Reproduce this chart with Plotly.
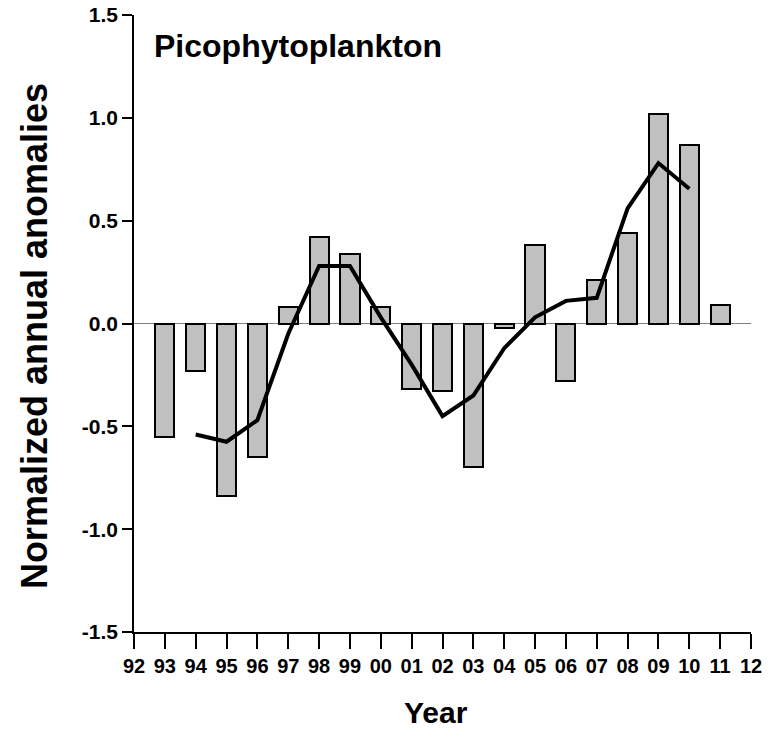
import plotly.graph_objects as go

# ---- data ----
bar_years = list(range(1993, 2012))
bar_values = [-0.55, -0.23, -0.84, -0.65, 0.08, 0.42, 0.34, 0.08, -0.32, -0.33,
              -0.70, -0.02, 0.38, -0.28, 0.21, 0.44, 1.02, 0.87, 0.09]

line_years = list(range(1994, 2011))
line_values = [-0.54, -0.575, -0.47, -0.05, 0.28, 0.28, 0.03, -0.20, -0.45, -0.35,
               -0.12, 0.03, 0.11, 0.125, 0.56, 0.78, 0.655]

x_tick_vals = list(range(1992, 2013))
x_tick_text = ["92", "93", "94", "95", "96", "97", "98", "99", "00", "01", "02",
               "03", "04", "05", "06", "07", "08", "09", "10", "11", "12"]
y_tick_vals = [-1.5, -1.0, -0.5, 0.0, 0.5, 1.0, 1.5]
y_tick_text = ["-1.5", "-1.0", "-0.5", "0.0", "0.5", "1.0", "1.5"]

title_text = "Picophytoplankton"
x_title = "Year"
y_title = "Normalized annual anomalies"

FONT = "Liberation Sans, Arial, sans-serif"

fig = go.Figure()
fig.add_trace(go.Bar(
    x=bar_years, y=bar_values, width=0.62,
    marker=dict(color="#c0c0c0", line=dict(color="black", width=2)),
    showlegend=False,
))
fig.add_trace(go.Scatter(
    x=line_years, y=line_values, mode="lines",
    line=dict(color="black", width=4),
    showlegend=False,
))

fig.update_layout(
    width=779, height=735,
    margin=dict(l=134, r=28, t=15, b=103),
    plot_bgcolor="white", paper_bgcolor="white",
    font=dict(family=FONT, color="black"),
    bargap=0,
)
fig.update_xaxes(
    range=[1992, 2012], showgrid=False, zeroline=False, automargin=False,
    showline=True, linecolor="black", linewidth=1.5,
    ticks="outside", ticklen=15, tickwidth=1.5, tickcolor="black",
    tickvals=x_tick_vals, ticktext=x_tick_text,
    tickfont=dict(family=FONT, size=20, weight="bold", color="black"),
)
fig.update_yaxes(
    range=[-1.5, 1.5], showgrid=False, automargin=False,
    ticklabeloverflow="allow",
    zeroline=True, zerolinecolor="#808080", zerolinewidth=1,
    showline=True, linecolor="black", linewidth=1.5,
    ticks="outside", ticklen=10, tickwidth=1.5, tickcolor="black",
    tickvals=y_tick_vals, ticktext=y_tick_text,
    tickfont=dict(family=FONT, size=21, weight="bold", color="black"),
)

fig.add_annotation(text=title_text, xref="paper", yref="paper",
                   x=0.029, y=0.95, xanchor="left", yanchor="middle",
                   showarrow=False,
                   font=dict(family=FONT, size=32, weight="bold", color="black"))
fig.add_annotation(text=x_title, xref="paper", yref="paper",
                   x=0.489, y=-0.131, xanchor="center", yanchor="middle",
                   showarrow=False,
                   font=dict(family=FONT, size=30, weight="bold", color="black"))
fig.add_annotation(text=y_title, xref="paper", yref="paper",
                   x=-0.160, y=0.48, xanchor="center", yanchor="middle",
                   textangle=-90, showarrow=False,
                   font=dict(family=FONT, size=36, weight="bold", color="black"))

fig.write_html("out.html",
               config={"displayModeBar": False},
               post_script="document.body.style.margin='0px';")
